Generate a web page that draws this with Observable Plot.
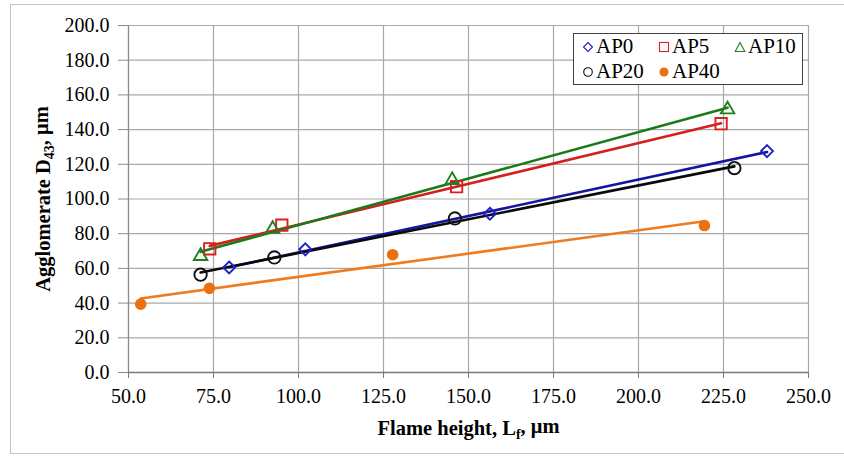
<!DOCTYPE html>
<html>
<head>
<meta charset="utf-8">
<script src="https://cdn.jsdelivr.net/npm/d3@7"></script>
<script src="https://cdn.jsdelivr.net/npm/@observablehq/plot@0.6"></script>
<style>
  html, body { margin: 0; padding: 0; background: #fff; }
  #wrap { position: relative; width: 844px; height: 456px; overflow: hidden; font-family: "Liberation Serif", Tinos, "DejaVu Serif", serif; }
  #frame { position: absolute; left: 10px; top: 4px; width: 850px; height: 450px; border: 1px solid #c4c4c4; box-sizing: border-box; }
  #chart { position: absolute; left: 0; top: 0; }
  #legend { position: absolute; left: 573px; top: 33px; width: 230px; height: 52px; border: 1px solid #404040; background: #fff; box-sizing: border-box; }
  .item { position: absolute; display: flex; align-items: center; font-size: 21px; line-height: 21px; color: #000; font-family: "Liberation Serif", Tinos, "DejaVu Serif", serif; }
  .item svg { margin-right: 2px; }
  #chart svg, #chart svg text { font-family: "Liberation Serif", Tinos, "DejaVu Serif", serif !important; }
</style>
</head>
<body>
<div id="wrap">
  <div id="frame"></div>
  <div id="chart"></div>
  <div id="legend"></div>
</div>
<script>
// ---- data ----
const categories = ["AP0", "AP5", "AP10", "AP20", "AP40"];
const ap0X = [79.6, 102.0, 156.3, 237.8];
const ap0Y = [60.5, 71.0, 91.5, 127.6];
const ap5X = [73.9, 95.1, 146.5, 224.3];
const ap5Y = [71.3, 84.9, 107.1, 143.4];
const ap10X = [71.2, 92.4, 145.2, 226.2];
const ap10Y = [67.1, 82.7, 110.9, 151.6];
const ap20X = [71.2, 92.9, 146.0, 228.2];
const ap20Y = [56.4, 66.3, 88.8, 117.8];
const ap40X = [53.6, 73.8, 127.7, 219.4];
const ap40Y = [39.4, 48.5, 67.9, 84.7];
const xTicks = [50, 75, 100, 125, 150, 175, 200, 225, 250];
const yTicks = [0, 20, 40, 60, 80, 100, 120, 140, 160, 180, 200];

const seriesX = [ap0X, ap5X, ap10X, ap20X, ap40X];
const seriesY = [ap0Y, ap5Y, ap10Y, ap20Y, ap40Y];
const styles = {
  AP0:  {line: "#14149e", mark: "#2020c8", symbol: "diamond2", r: 5.4, fill: "none"},
  AP5:  {line: "#d41f1f", mark: "#dc2020", symbol: "square2", r: 7.2, fill: "none"},
  AP10: {line: "#1a7a1a", mark: "#1f801f", symbol: "triangle2", r: 6.4, fill: "none"},
  AP20: {line: "#0a0a0a", mark: "#111111", symbol: "circle", r: 6.2, fill: "none"},
  AP40: {line: "#f07a1c", mark: "#ea7010", symbol: "circle", r: 5.8, fill: "#ea7010"}
};

const rows = [];
categories.forEach((c, i) => {
  seriesX[i].forEach((x, j) => rows.push({series: c, x, y: seriesY[i][j]}));
});

const marks = [
  Plot.gridX(xTicks, {stroke: "#a8a8a8", strokeOpacity: 1, strokeWidth: 1.2}),
  Plot.gridY(yTicks, {stroke: "#a8a8a8", strokeOpacity: 1, strokeWidth: 1.2}),
  Plot.ruleX([50], {stroke: "#8c8c8c", strokeWidth: 1.2}),
  Plot.ruleY([0], {stroke: "#7a7a7a", strokeWidth: 1.4}),
  Plot.axisY({ticks: yTicks, tickSize: 10, tickPadding: 9, stroke: "#8c8c8c",
    tickFormat: d => d.toFixed(1), label: "Agglomerate D43, μm", labelAnchor: "center", labelOffset: 93}),
  Plot.axisX({ticks: xTicks, tickSize: 6, tickPadding: 10, stroke: "#7a7a7a",
    tickFormat: d => d.toFixed(1), label: "Flame height, Lf, μm", labelAnchor: "center", labelOffset: 62})
];
categories.forEach(c => {
  const s = styles[c];
  const data = rows.filter(d => d.series === c);
  marks.push(Plot.linearRegressionY(data, {x: "x", y: "y", stroke: s.line, strokeWidth: 2.6, ci: 0}));
});
categories.forEach(c => {
  const s = styles[c];
  const data = rows.filter(d => d.series === c);
  marks.push(Plot.dot(data, {x: "x", y: "y", symbol: () => s.symbol, r: s.r, stroke: s.mark,
    fill: s.fill, strokeWidth: s.fill === "none" ? 1.9 : 0}));
});

const chart = Plot.plot({
  width: 844, height: 456,
  marginLeft: 128, marginRight: 36, marginTop: 25, marginBottom: 84,
  style: {fontFamily: "'Liberation Serif', Tinos, 'DejaVu Serif', serif", fontSize: "20px", background: "transparent", color: "#000"},
  x: {domain: [50, 250]},
  y: {domain: [0, 200]},
  symbol: {type: "identity"},
  marks
});
document.getElementById("chart").appendChild(chart);

// style axis titles: bold with subscripts
function subscriptLabel(sel, before, sub, after) {
  const g = chart.querySelector(sel);
  if (!g) return;
  const t = g.querySelector("text");
  if (!t) return;
  t.setAttribute("font-weight", "bold");
  t.setAttribute("font-size", "20.5");
  t.textContent = "";
  const ns = "http://www.w3.org/2000/svg";
  const a = document.createElementNS(ns, "tspan"); a.textContent = before; t.appendChild(a);
  const b = document.createElementNS(ns, "tspan"); b.textContent = sub; b.setAttribute("dy", "0.3em"); b.setAttribute("font-size", "14"); t.appendChild(b);
  const c = document.createElementNS(ns, "tspan"); c.textContent = after; c.setAttribute("dy", "-0.3em"); t.appendChild(c);
}
subscriptLabel('g[aria-label="y-axis label"]', "Agglomerate D", "43", ", μm");
subscriptLabel('g[aria-label="x-axis label"]', "Flame height, L", "f", ", μm");

// legend
const legendPos = {
  AP0: [8, 2], AP5: [84, 2], AP10: [160, 2], AP20: [8, 27], AP40: [84, 27]
};
const symPaths = {
  diamond2: '<path d="M6,1.5 L10.5,6 L6,10.5 L1.5,6 Z" fill="none" stroke-width="1.1"/>',
  square2: '<rect x="1.5" y="1.5" width="9" height="9" fill="none" stroke-width="1.1"/>',
  triangle2: '<path d="M6,1.5 L10.8,10.5 L1.2,10.5 Z" fill="none" stroke-width="1.1"/>',
  circle: '<circle cx="6" cy="6" r="4.3" fill="none" stroke-width="1.1"/>',
  dot: '<circle cx="6" cy="6" r="4.5" stroke="none"/>'
};
const legend = document.getElementById("legend");
categories.forEach(c => {
  const s = styles[c];
  const key = s.fill === "none" ? s.symbol : "dot";
  const div = document.createElement("div");
  div.className = "item";
  div.style.left = legendPos[c][0] + "px";
  div.style.top = legendPos[c][1] + "px";
  div.innerHTML = `<svg width="12" height="12" style="stroke:${s.mark};fill:${s.mark}">${symPaths[key]}</svg><span>${c}</span>`;
  legend.appendChild(div);
});
</script>
</body>
</html>
